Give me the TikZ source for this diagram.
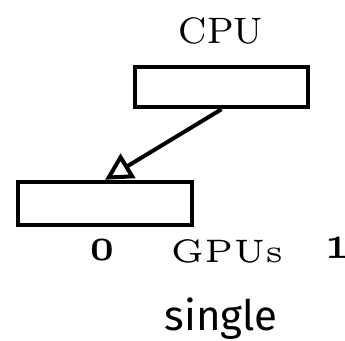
\documentclass[tikz,border=0pt]{standalone}
\usepackage{fontspec}
\usetikzlibrary{arrows.meta}
\newfontfamily\captionsans{Fira Sans}
\newcommand{\sizedtext}[3]{\scalebox{#1}{\fontsize{#2}{#2}\selectfont #3}}
\begin{document}
\begin{tikzpicture}[x=1pt,y=-1pt,
  unitbox/.style={draw=black,line width=4.5pt,fill=white,inner sep=0pt},
  label text/.style={inner sep=0pt,anchor=base},
  link/.style={line width=4pt,-{Triangle[open,length=27pt,width=28pt]}}]
  \useasboundingbox (0,0) rectangle (345,340);
  % processing units
  \node[unitbox,minimum width=173pt,minimum height=40pt] (cpu) at (221.5,87) {};
  \node[unitbox,minimum width=174pt,minimum height=43pt] (gpu) at (105,203.5) {};
  % host to device transfer
  \draw[link] (cpu.south) -- (gpu.north);
  % labels
  \node[label text] (cputxt) at (221,43) {\sizedtext{4.6}{8}{CPU}};
  \node[label text] (zero) at (102,260) {\sizedtext{6.5}{5}{\bfseries 0}};
  \node[label text] (gputxt) at (227,262) {\sizedtext{6.5}{5}{GPUs}};
  \node[label text] (one) at (337,258) {\sizedtext{6.5}{5}{\bfseries 1}};
  \node[label text] (mode) at (221,330) {\fontsize{42}{45}\selectfont\captionsans single};
\end{tikzpicture}
\end{document}
